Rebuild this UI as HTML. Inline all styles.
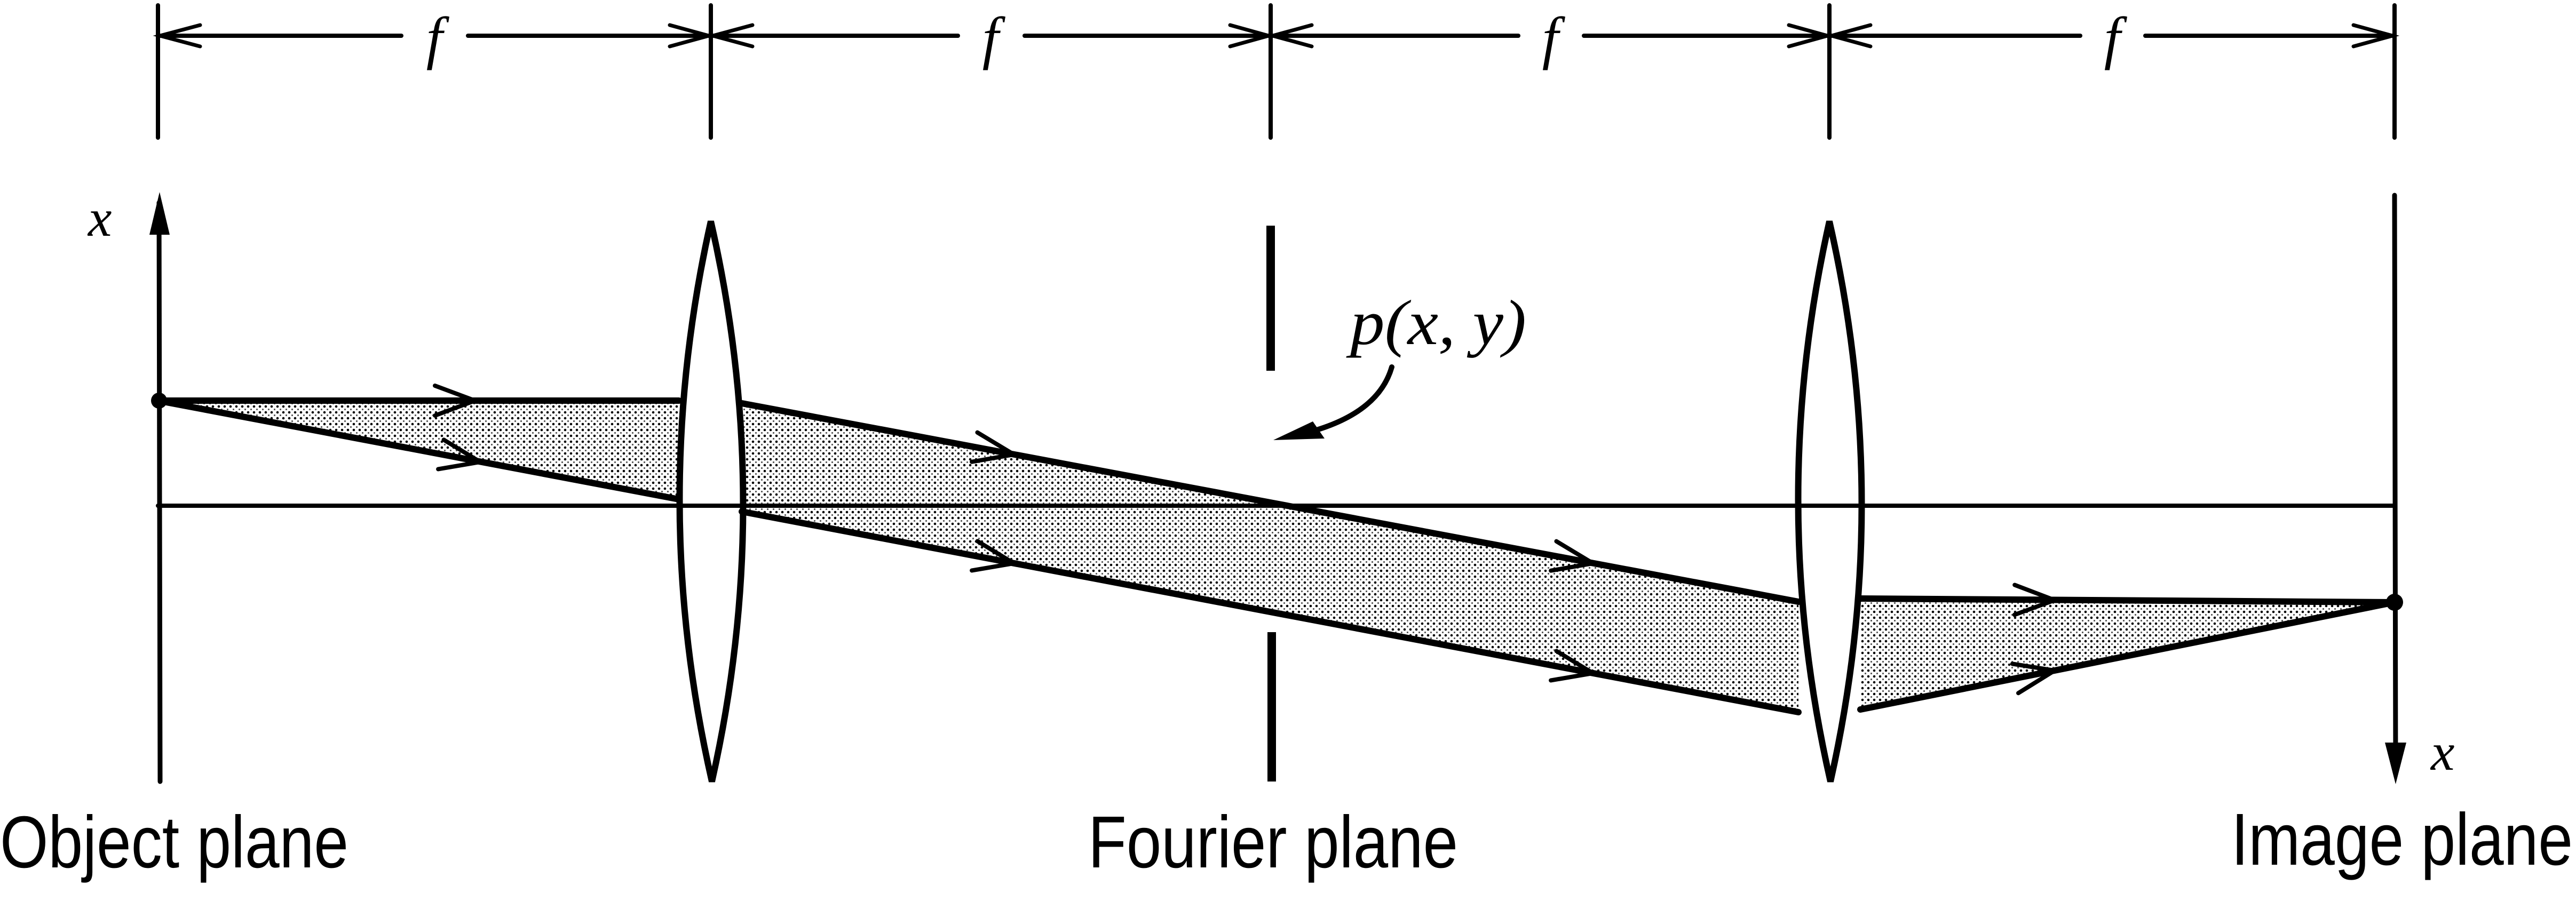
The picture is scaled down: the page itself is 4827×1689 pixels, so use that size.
<!DOCTYPE html>
<html><head><meta charset="utf-8"><style>
html,body{margin:0;padding:0;background:#fff;}
svg{display:block;}
</style></head><body>
<svg width="4827" height="1689" viewBox="0 0 4827 1689" xmlns="http://www.w3.org/2000/svg">
<defs>
<pattern id="dots" width="11" height="11" patternUnits="userSpaceOnUse">
<rect width="11" height="11" fill="#fff"/>
<circle cx="3" cy="3" r="2.3" fill="#000"/>
<circle cx="8.5" cy="8.5" r="1.6" fill="#555"/>
</pattern>
</defs>
<polygon points="296,751 1272,751 1272,936" fill="url(#dots)"/>
<polygon points="1390,756 3370,1128 3370,1335 1390,959" fill="url(#dots)"/>
<polygon points="3486,1122 4487,1129 3486,1330" fill="url(#dots)"/>

<g stroke="#000" fill="none" stroke-linecap="round">
<g stroke-width="8">
<line x1="296" y1="10" x2="296" y2="258"/>
<line x1="1332" y1="10" x2="1332" y2="258"/>
<line x1="2381" y1="10" x2="2381" y2="258"/>
<line x1="3428" y1="10" x2="3428" y2="258"/>
<line x1="4487" y1="10" x2="4487" y2="258"/>
<line x1="296" y1="67" x2="752" y2="67"/><line x1="877" y1="67" x2="1332" y2="67"/>
<line x1="1332" y1="67" x2="1795" y2="67"/><line x1="1920" y1="67" x2="2381" y2="67"/>
<line x1="2381" y1="67" x2="2845" y2="67"/><line x1="2968" y1="67" x2="3428" y2="67"/>
<line x1="3428" y1="67" x2="3898" y2="67"/><line x1="4020" y1="67" x2="4487" y2="67"/>
</g>
<g stroke-width="7">
<path d="M375 47 L300 67 L375 87"/><path d="M1255 47 L1328 67 L1255 87"/>
<path d="M1410 47 L1336 67 L1410 87"/><path d="M2305 47 L2377 67 L2305 87"/>
<path d="M2458 47 L2385 67 L2458 87"/><path d="M3352 47 L3424 67 L3352 87"/>
<path d="M3505 47 L3432 67 L3505 87"/><path d="M4410 47 L4483 67 L4410 87"/>
</g>
<line x1="296" y1="948" x2="4487" y2="948" stroke-width="8"/>
<line x1="298" y1="380" x2="300" y2="1465" stroke-width="9"/>
<line x1="4487" y1="366" x2="4489" y2="1450" stroke-width="9"/>
<line x1="2381" y1="423" x2="2381" y2="695" stroke-width="16" stroke-linecap="butt"/>
<line x1="2383" y1="1185" x2="2383" y2="1465" stroke-width="16" stroke-linecap="butt"/>
<path d="M1332 415 Q1214 940 1334 1465 Q1452 940 1332 415 Z" stroke-width="12" fill="#fff"/>
<path d="M3428 415 Q3310 940 3430 1465 Q3548 940 3428 415 Z" stroke-width="12" fill="#fff"/>
<line x1="1272" y1="948" x2="1392" y2="948" stroke-width="8"/>
<line x1="3368" y1="948" x2="3488" y2="948" stroke-width="8"/>
<g stroke-width="12">
<line x1="296" y1="751" x2="1272" y2="751"/>
<line x1="296" y1="751" x2="1272" y2="936"/>
<line x1="1390" y1="756" x2="3370" y2="1128"/>
<line x1="1390" y1="959" x2="3370" y2="1335"/>
<line x1="3486" y1="1122" x2="4487" y2="1129"/>
<line x1="3486" y1="1330" x2="4487" y2="1129"/>
</g>
<g stroke-width="8">
<path transform="translate(890,751)" d="M-75 -28 L0 0 L-75 28"/>
<path transform="translate(900,866) rotate(10.8)" d="M-75 -28 L0 0 L-75 28"/>
<path transform="translate(1900,852) rotate(10.6)" d="M-75 -28 L0 0 L-75 28"/>
<path transform="translate(1900,1056) rotate(10.8)" d="M-75 -28 L0 0 L-75 28"/>
<path transform="translate(2985,1056) rotate(10.6)" d="M-75 -28 L0 0 L-75 28"/>
<path transform="translate(2985,1262) rotate(10.8)" d="M-75 -28 L0 0 L-75 28"/>
<path transform="translate(3850,1125) rotate(0.4)" d="M-75 -28 L0 0 L-75 28"/>
<path transform="translate(3850,1257) rotate(-11.4)" d="M-75 -28 L0 0 L-75 28"/>
</g>
<path d="M2608 688 Q2580 785 2420 818" stroke-width="10"/>
</g>
<polygon points="299,360 280,440 318,440" fill="#000"/>
<polygon points="4489,1470 4469,1392 4509,1392" fill="#000"/>
<polygon points="2386,825 2460,790 2482,822" fill="#000"/>
<circle cx="298" cy="751" r="15" fill="#000"/>
<circle cx="4487" cy="1129" r="16" fill="#000"/>

<g font-family="Liberation Serif, serif" font-style="italic" fill="#000">
<text x="814" y="108" font-size="110" text-anchor="middle">f</text>
<text x="1856" y="108" font-size="110" text-anchor="middle">f</text>
<text x="2905" y="108" font-size="110" text-anchor="middle">f</text>
<text x="3958" y="108" font-size="110" text-anchor="middle">f</text>
<text x="165" y="442" font-size="100">x</text>
<text x="4555" y="1443" font-size="100">x</text>
<text x="2530" y="645" font-size="120" textLength="330" lengthAdjust="spacingAndGlyphs">p(x, y)</text>
</g>
<g font-family="Liberation Sans, sans-serif" fill="#000" font-size="138">
<text x="0" y="1626" textLength="653" lengthAdjust="spacingAndGlyphs">Object plane</text>
<text x="2039" y="1626" textLength="693" lengthAdjust="spacingAndGlyphs">Fourier plane</text>
<text x="4181" y="1621" textLength="640" lengthAdjust="spacingAndGlyphs">Image plane</text>
</g>
</svg>
</body></html>
